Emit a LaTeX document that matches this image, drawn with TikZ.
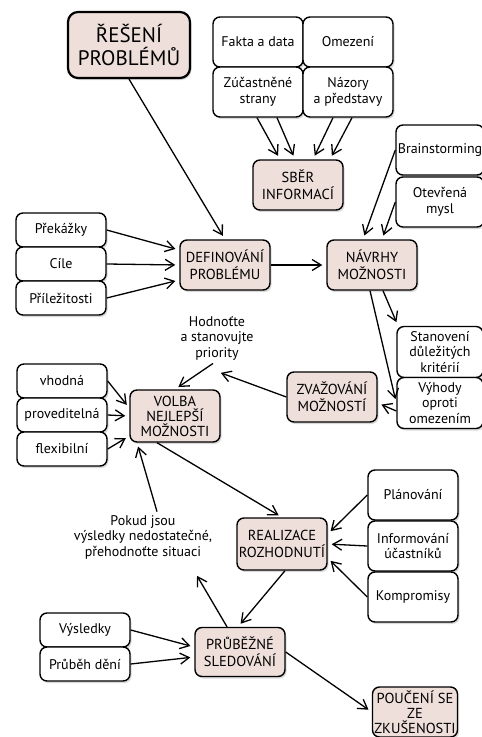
\documentclass[tikz,border=0pt]{standalone}
\usepackage{fontspec}
\setmainfont{PT Sans}
\usepackage{tikz}
\usetikzlibrary{arrows.meta,shadows}
\definecolor{stagefill}{HTML}{EEDFDA}

\begin{document}
\begin{tikzpicture}[
    x=1pt, y=-1pt,
    box/.style={draw=black, line width=1.4pt, rounded corners=7pt, fill=white, align=center,
        inner sep=1pt, minimum width=90pt, minimum height=50pt, font=\fontsize{14}{15.5}\selectfont,
        drop shadow={shadow xshift=1.5pt, shadow yshift=-2pt, opacity=0.3}},
    stage/.style={box, fill=stagefill, font=\fontsize{14.5}{16.5}\selectfont},
    note/.style={align=center, font=\fontsize{14}{15.5}\selectfont},
    arr/.style={-{Straight Barb[length=9pt,width=11pt]}, line width=1.3pt, shorten >=4pt}
]
\useasboundingbox (0,0) rectangle (482,737);

% hlavni uzly
\node[stage, line width=2.2pt, minimum width=122pt, minimum height=66pt, rounded corners=10pt,
      font=\fontsize{21}{23}\selectfont] (title) at (129,45) {ŘEŠENÍ\\PROBLÉMŮ};
\node[stage] (sber) at (298,185) {SBĚR\\INFORMACÍ};
\node[stage] (defin) at (225,265) {DEFINOVÁNÍ\\PROBLÉMU};
\node[stage] (navrhy) at (372,265) {NÁVRHY\\MOŽNOSTI};
\node[stage] (zvaz) at (332,397) {ZVAŽOVÁNÍ\\MOŽNOSTÍ};
\node[stage, minimum height=52pt, font=\fontsize{14.5}{15}\selectfont] (volba) at (175,416) {VOLBA\\NEJLEPŠÍ\\MOŽNOSTI};
\node[stage, minimum height=52pt] (realiz) at (282,544) {REALIZACE\\ROZHODNUTÍ};
\node[stage, minimum height=49pt] (prubez) at (240,652) {PRŮBĚŽNÉ\\SLEDOVÁNÍ};
\node[stage, minimum width=85pt, font=\fontsize{14.5}{15}\selectfont] (pouceni) at (415,712) {POUČENÍ SE\\ZE\\ZKUŠENOSTI};

% sber informaci
\node[box] (fakta) at (258,42) {Fakta a data};
\node[box] (omezeni) at (348,42) {Omezení};
\node[box] (zucast) at (258,92) {Zúčastněné\\strany};
\node[box] (nazory) at (348,92) {Názory\\a představy};

% navrhy
\node[box, minimum width=88pt] (brain) at (440,150) {Brainstorming};
\node[box, minimum width=88pt] (otevrena) at (440,202) {Otevřená\\mysl};

% definovani
\node[box, minimum height=34pt] (prekazky) at (61,230) {Překážky};
\node[box, minimum height=34pt] (cile) at (61,264) {Cíle};
\node[box, minimum height=34pt] (prilez) at (61,298) {Příležitosti};

% zvazovani
\node[box, minimum width=86pt, minimum height=51pt] (stanov) at (440,352) {Stanovení\\důležitých\\kritérií};
\node[box, minimum width=86pt, minimum height=51pt] (vyhody) at (440,403) {Výhody\\oproti\\omezením};
\node[note] (hodnotte) at (217,338) {Hodnoťte\\a stanovujte\\priority};

% volba
\node[box, minimum height=34pt] (vhodna) at (62,381) {vhodná};
\node[box, minimum height=34pt] (proved) at (62,415) {proveditelná};
\node[box, minimum height=34pt] (flexib) at (62,449) {flexibilní};

% realizace
\node[box] (planov) at (413,495) {Plánování};
\node[box] (inform) at (413,546) {Informování\\účastníků};
\node[box] (kompro) at (413,597) {Kompromisy};
\node[note] (pokud) at (143,537) {Pokud jsou\\výsledky nedostatečné,\\přehodnoťte situaci};

% sledovani
\node[box, minimum height=34pt] (vysled) at (85,630) {Výsledky};
\node[box, minimum height=34pt] (prubeh) at (85,664) {Průběh dění};

% sipky
\draw[arr] (title.south) -- (defin.north);
\draw[arr] ([xshift=-1pt]zucast.south) -- ([xshift=-18pt]sber.north);
\draw[arr] ([xshift=19pt]zucast.south) -- ([xshift=-3pt]sber.north);
\draw[arr] ([xshift=-15pt]nazory.south) -- ([xshift=15pt]sber.north);
\draw[arr] ([xshift=4pt]nazory.south) -- ([xshift=32pt]sber.north);
\draw[arr] (brain.west) -- ([xshift=-9pt]navrhy.north);
\draw[arr] (otevrena.west) -- ([xshift=10pt]navrhy.north);
\draw[arr] (prekazky.east) -- ([yshift=15pt]defin.west);
\draw[arr] (cile.east) -- (defin.west);
\draw[arr] (prilez.east) -- ([yshift=-15pt]defin.west);
\draw[arr] (defin.east) -- (navrhy.west);
\draw[arr] ([xshift=11pt]navrhy.south) -- ([xshift=-42pt]stanov.north);
\draw[arr] ([xshift=-2pt]navrhy.south) -- (vyhody.west);
\draw[arr] ([yshift=-8pt]vyhody.west) -- ([yshift=-6pt]zvaz.east);
\draw[arr] (zvaz.west) -- ([yshift=-8pt]hodnotte.south);
\draw[arr] ([xshift=-4pt]hodnotte.south) -- (volba.north);
\draw[arr] (vhodna.east) -- ([yshift=8pt]volba.west);
\draw[arr] (proved.east) -- (volba.west);
\draw[arr] (flexib.east) -- ([yshift=-20pt]volba.west);
\draw[arr] ([xshift=-18pt]volba.south) -- (realiz.north);
\draw[arr] ([xshift=14pt]pokud.north) -- ([xshift=-38pt]volba.south);
\draw[arr] (planov.west) -- ([yshift=10pt]realiz.east);
\draw[arr] (inform.west) -- (realiz.east);
\draw[arr] (kompro.west) -- ([yshift=-14pt]realiz.east);
\draw[arr] ([xshift=3pt]realiz.south) -- ([xshift=-2pt]prubez.north);
\draw[arr] ([xshift=-13pt]prubez.north) -- ([xshift=52pt,yshift=-10pt]pokud.south);
\draw[arr] (vysled.east) -- ([yshift=5pt]prubez.west);
\draw[arr] (prubeh.east) -- ([yshift=-5pt]prubez.west);
\draw[arr] (prubez.east) -- (pouceni.west);

\end{tikzpicture}
\end{document}
